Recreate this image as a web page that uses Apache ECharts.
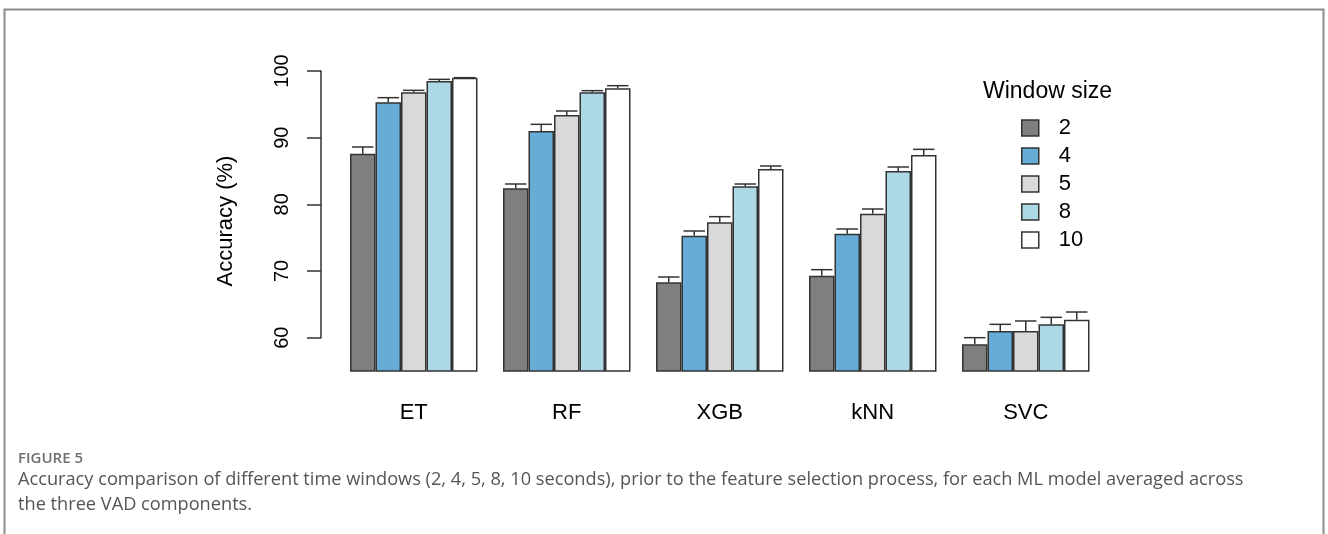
<!DOCTYPE html>
<html>
<head>
<meta charset="utf-8">
<script src="https://cdn.jsdelivr.net/npm/echarts@6/dist/echarts.min.js"></script>
<style>
  html, body { margin: 0; padding: 0; background: #ffffff; }
  #chart { width: 1328px; height: 534px; }
</style>
</head>
<body>
<div id="chart"></div>
<script>
// Models on the x axis and the window sizes (seconds) that form each group
const categories = ['ET', 'RF', 'XGB', 'kNN', 'SVC'];
const windowSizes = ['2', '4', '5', '8', '10'];

// Mean accuracy (%) per model, one array per window size
const acc2  = [87.6, 82.4, 68.3, 69.3, 59.0];
const acc4  = [95.3, 91.0, 75.3, 75.6, 61.0];
const acc5  = [96.8, 93.4, 77.3, 78.6, 61.0];
const acc8  = [98.5, 96.8, 82.7, 85.0, 62.0];
const acc10 = [99.0, 97.4, 85.3, 87.4, 62.7];

// Error (upper whisker length, %) per model, one array per window size
const err2  = [1.0, 0.65, 0.8, 0.9, 1.0];
const err4  = [0.7, 1.0, 0.7, 0.7, 1.0];
const err5  = [0.3, 0.6, 0.85, 0.7, 1.5];
const err8  = [0.25, 0.25, 0.35, 0.6, 1.05];
const err10 = [0.0, 0.4, 0.45, 0.85, 1.15];

// Y axis ticks
const yTicks = [60, 70, 80, 90, 100];

const accSets = [acc2, acc4, acc5, acc8, acc10];
const errSets = [err2, err4, err5, err8, err10];
const fills = ['#7f7f7f', '#67acd6', '#d9d9d9', '#add8e6', '#ffffff'];
const edge = '#333333';
const fontMain = 'Liberation Sans, Arial, sans-serif';

// Plot area
const plotTop = 71, plotHeight = 300, plotLeft = 337.25, plotWidth = 765;
const yMin = 55, yMax = 100;
const yPix = v => plotTop + (yMax - v) / (yMax - yMin) * plotHeight;
const axisTop = yPix(yTicks[yTicks.length - 1]);
const axisBottom = yPix(yTicks[0]);

const nBars = windowSizes.length;
const groupGap = 1 / (nBars + 1);

const barSeries = windowSizes.map((w, k) => ({
  name: w,
  type: 'bar',
  xAxisIndex: 0,
  yAxisIndex: 0,
  data: accSets[k],
  barGap: '0%',
  barCategoryGap: (groupGap * 100).toFixed(3) + '%',
  itemStyle: { color: fills[k], borderColor: edge, borderWidth: 1.5 },
  z: 2
}));

// Upper error whiskers placed over each bar of the group
const errSeries = windowSizes.map((w, k) => ({
  type: 'custom',
  xAxisIndex: 0,
  yAxisIndex: 0,
  z: 5,
  clip: false,
  data: categories.map((c, i) => [i, accSets[k][i], errSets[k][i]]),
  encode: { x: 0, y: 1 },
  renderItem: function (params, api) {
    const idx = api.value(0);
    const mean = api.value(1);
    const e = api.value(2);
    const band = api.size([1, 0])[0];
    const barW = band * (1 - groupGap) / nBars;
    const center = api.coord([idx, mean]);
    const x = center[0] + (k - (nBars - 1) / 2) * barW;
    const yBase = center[1];
    const yTop = api.coord([idx, mean + e])[1];
    const capHalf = barW * 0.42;
    const st = { stroke: edge, lineWidth: 1.5 };
    return {
      type: 'group',
      children: [
        { type: 'line', shape: { x1: x, y1: yBase, x2: x, y2: yTop }, style: st },
        { type: 'line', shape: { x1: x - capHalf, y1: yTop, x2: x + capHalf, y2: yTop }, style: st }
      ]
    };
  }
}));

const chart = echarts.init(document.getElementById('chart'), null, { renderer: 'canvas' });

chart.setOption({
  animation: false,
  backgroundColor: '#ffffff',
  title: {
    text: 'Window size',
    left: 983,
    top: 80,
    padding: 0,
    textStyle: { fontFamily: fontMain, fontSize: 23, fontWeight: 'normal', color: '#000' }
  },
  legend: {
    data: windowSizes,
    orient: 'vertical',
    left: 1021,
    top: 117,
    padding: 0,
    itemWidth: 17,
    itemHeight: 16,
    itemGap: 6,
    icon: 'rect',
    itemStyle: { borderColor: edge, borderWidth: 1.5 },
    textStyle: { fontFamily: fontMain, fontSize: 22, color: '#000', lineHeight: 16, padding: [0, 0, 0, 15] },
    selectedMode: false
  },
  grid: [
    { left: plotLeft, top: plotTop, width: plotWidth, height: plotHeight },
    { left: 321, top: axisTop, width: 10, height: axisBottom - axisTop }
  ],
  xAxis: [
    {
      type: 'category',
      gridIndex: 0,
      data: categories,
      axisLine: { show: false },
      axisTick: { show: false },
      axisLabel: { fontFamily: fontMain, fontSize: 22, color: '#000', margin: 31 }
    },
    { type: 'value', gridIndex: 1, show: false }
  ],
  yAxis: [
    {
      type: 'value',
      gridIndex: 0,
      min: yMin,
      max: yMax,
      axisLine: { show: false },
      axisTick: { show: false },
      axisLabel: { show: false },
      splitLine: { show: false },
      name: 'Accuracy (%)',
      nameLocation: 'middle',
      nameRotate: 90,
      nameGap: 100,
      nameTextStyle: { fontFamily: fontMain, fontSize: 22, color: '#000' }
    },
    {
      type: 'value',
      gridIndex: 1,
      min: yTicks[0],
      max: yTicks[yTicks.length - 1],
      interval: 10,
      position: 'left',
      axisLine: { show: true, lineStyle: { color: edge, width: 1.5 } },
      axisTick: { show: true, inside: false, length: 14, lineStyle: { color: edge, width: 1.5 } },
      axisLabel: { rotate: 90, fontFamily: fontMain, fontSize: 20, color: '#000', margin: 29 },
      splitLine: { show: false }
    }
  ],
  series: barSeries.concat(errSeries),
  graphic: [
    {
      type: 'rect',
      shape: { x: 4.5, y: 9.5, width: 1319, height: 540 },
      style: { fill: 'none', stroke: '#8c8c8c', lineWidth: 2 },
      silent: true
    },
    {
      type: 'text',
      left: 18,
      top: 451,
      style: { text: 'FIGURE 5', font: '600 15px "Open Sans", sans-serif', fill: '#6e6e6e' }
    },
    {
      type: 'text',
      left: 18,
      top: 471,
      style: {
        text: 'Accuracy comparison of different time windows (2, 4, 5, 8, 10 seconds), prior to the feature selection process, for each ML model averaged across',
        font: '18.2px "Open Sans", sans-serif',
        fill: '#555555'
      }
    },
    {
      type: 'text',
      left: 18,
      top: 496,
      style: { text: 'the three VAD components.', font: '18.2px "Open Sans", sans-serif', fill: '#555555' }
    }
  ]
});
</script>
</body>
</html>
